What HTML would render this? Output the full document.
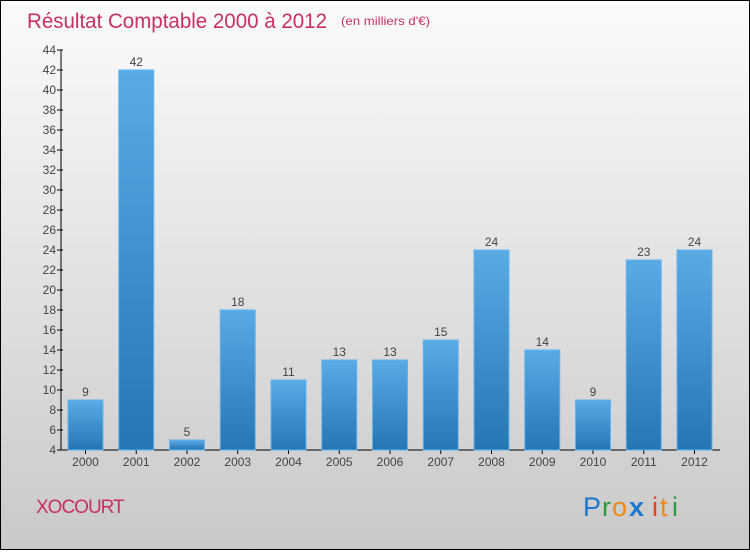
<!DOCTYPE html>
<html><head><meta charset="utf-8"><style>
body{margin:0;width:750px;height:550px;overflow:hidden;font-family:"Liberation Sans",sans-serif}
</style></head><body>
<svg width="750" height="550" xmlns="http://www.w3.org/2000/svg">
<defs>
<linearGradient id="bg" x1="0" y1="0" x2="0" y2="1"><stop offset="0" stop-color="#fbfbfb"/><stop offset="1" stop-color="#c9c9c9"/></linearGradient>
<linearGradient id="bar" x1="0" y1="0" x2="0" y2="1"><stop offset="0" stop-color="#5aaae6"/><stop offset="1" stop-color="#2776b4"/></linearGradient>
</defs>
<rect x="0.5" y="0.5" width="749" height="549" fill="url(#bg)" stroke="#000"/>
<text x="27" y="28" font-size="21" fill="#c8305f" textLength="300" lengthAdjust="spacingAndGlyphs">Résultat Comptable 2000 à 2012</text>
<text x="341" y="25" font-size="12" fill="#c8305f" textLength="89" lengthAdjust="spacingAndGlyphs">(en milliers d'€)</text>
<g id="axes"></g>
<g id="bars"></g>
<text x="36" y="513" font-size="19" fill="#c8305f" letter-spacing="-1">XOCOURT</text>
<g font-size="27" font-family="Liberation Sans,sans-serif">
<text x="583" y="516" fill="#1a78d0">P</text><text x="602" y="516" fill="#2a9a3a">r</text><text x="612" y="516" fill="#f08a10">o</text><text x="629" y="516" fill="#1a78d0" font-weight="bold">x</text><text x="652" y="516" fill="#e8401a">i</text><text x="660" y="516" fill="#f08a10">t</text><text x="672" y="516" fill="#2a9a3a">i</text>
</g>
</svg>
<script>
const categories=["2000","2001","2002","2003","2004","2005","2006","2007","2008","2009","2010","2011","2012"];
const values=[9,42,5,18,11,13,13,15,24,14,9,23,24];
const yTicks=[4,6,8,10,12,14,16,18,20,22,24,26,28,30,32,34,36,38,40,42,44];
const NS="http://www.w3.org/2000/svg";
const y0=450,y1=50,vmin=4,vmax=44,x0=61;
const y=v=>y0-(v-vmin)/(vmax-vmin)*(y0-y1);
const xc=i=>85.5+i*50.75;
function mk(t,a,p){const e=document.createElementNS(NS,t);for(const k in a)e.setAttribute(k,a[k]);p.appendChild(e);return e;}
const ax=document.getElementById('axes'),bg=document.getElementById('bars');
const yl=mk('line',{x1:x0,y1:y1,x2:x0,y2:y0,stroke:'#000'},ax);


const xl=mk('line',{x1:x0,y1:y0,x2:720,y2:y0,stroke:'#000'},ax);


yTicks.forEach(v=>{
 mk('line',{x1:x0-4,y1:y(v),x2:x0+2,y2:y(v),stroke:'#000'},ax);
 const t=mk('text',{x:x0-5,y:y(v)+4,'font-size':12,fill:'#444','text-anchor':'end'},ax);
 t.textContent=v;
 
 
});
categories.forEach((c,i)=>{
 mk('line',{x1:xc(i),y1:y0,x2:xc(i),y2:y0+4,stroke:'#000'},ax);
 const t=mk('text',{x:xc(i),y:y0+16,'font-size':12,fill:'#444','text-anchor':'middle'},ax);
 t.textContent=c;
 
 
 const v=values[i];
 const r=mk('rect',{x:xc(i)-17.5,y:y(v),width:35,height:y0-y(v),fill:'url(#bar)',stroke:'#62b4f0','stroke-width':1},bg);
 
 
 const l=mk('text',{x:xc(i),y:y(v)-4,'font-size':12,fill:'#444','text-anchor':'middle'},bg);
 l.textContent=v;
 
 
});
</script>
</body></html>
